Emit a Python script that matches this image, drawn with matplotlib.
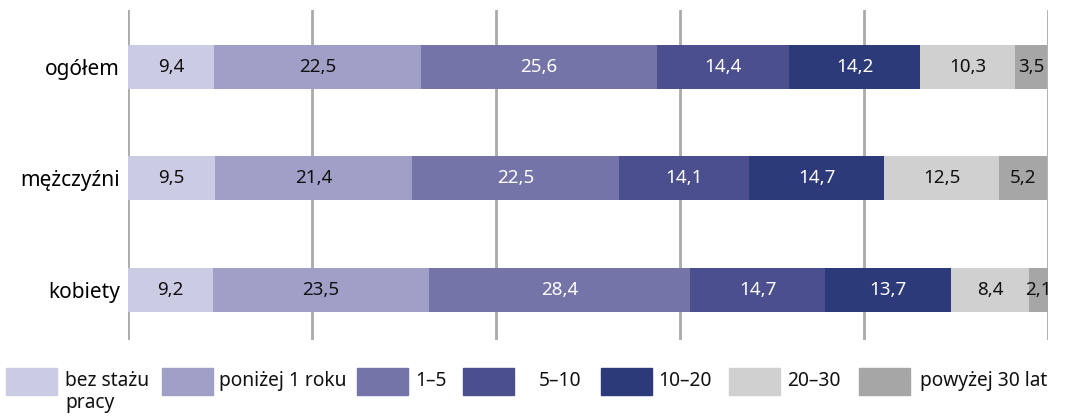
import matplotlib.pyplot as plt
from matplotlib.patches import Rectangle

plt.rcParams['font.family'] = ['Noto Sans', 'DejaVu Sans']

groups = ["ogółem", "mężczyźni", "kobiety"]
series = ["bez stażu\npracy", "poniżej 1 roku", "1–5", "5–10", "10–20", "20–30", "powyżej 30 lat"]
values = [
    [9.4, 9.5, 9.2],
    [22.5, 21.4, 23.5],
    [25.6, 22.5, 28.4],
    [14.4, 14.1, 14.7],
    [14.2, 14.7, 13.7],
    [10.3, 12.5, 8.4],
    [3.5, 5.2, 2.1],
]
colors = ["#cbcbe3", "#a09fc7", "#7474a8", "#4b4f8e", "#2c3a7a", "#d0d0d0", "#a6a6a6"]
text_colors = ["#111111", "#111111", "white", "white", "white", "#111111", "#111111"]

fig = plt.figure(figsize=(10.7, 4.17), dpi=100)
ax = fig.add_axes([128 / 1070, 77 / 417, 920 / 1070, 330 / 417])

y = list(range(len(groups)))
left = [0.0] * len(groups)
for vals, c, tc in zip(values, colors, text_colors):
    ax.barh(y, vals, left=left, height=0.395, color=c, zorder=3)
    for i, v in enumerate(vals):
        ax.text(left[i] + v / 2, y[i], f"{v:.1f}".replace(".", ","),
                ha="center", va="center", color=tc, fontsize=13.5, zorder=4)
    left = [l + v for l, v in zip(left, vals)]

ax.set_xlim(0, 100)
ax.set_ylim(2.45, -0.51)
ax.set_xticks(range(0, 101, 20))
ax.set_xticklabels([])
ax.tick_params(axis="x", length=0)
ax.grid(axis="x", color="#aaaaaa", linewidth=2, zorder=0)
ax.set_yticks(y)
ax.set_yticklabels(groups, fontsize=15)
ax.tick_params(axis="y", length=0, pad=6)
for s in ax.spines.values():
    s.set_visible(False)

# legend along the bottom
patch_x = [6, 162, 357, 463, 601, 729, 859]
text_x = [65, 219, 415, 539, 658, 787, 920]
for px, tx, lab, c in zip(patch_x, text_x, series, colors):
    fig.add_artist(Rectangle((px / 1070, (417 - 395) / 417), 51 / 1070, 27 / 417,
                             transform=fig.transFigure, color=c))
    fig.text(tx / 1070, (417 - 371) / 417, lab, ha="left", va="top",
             fontsize=13.8, color="#111111", linespacing=1.15)

fig.savefig("out.png", dpi=100)
